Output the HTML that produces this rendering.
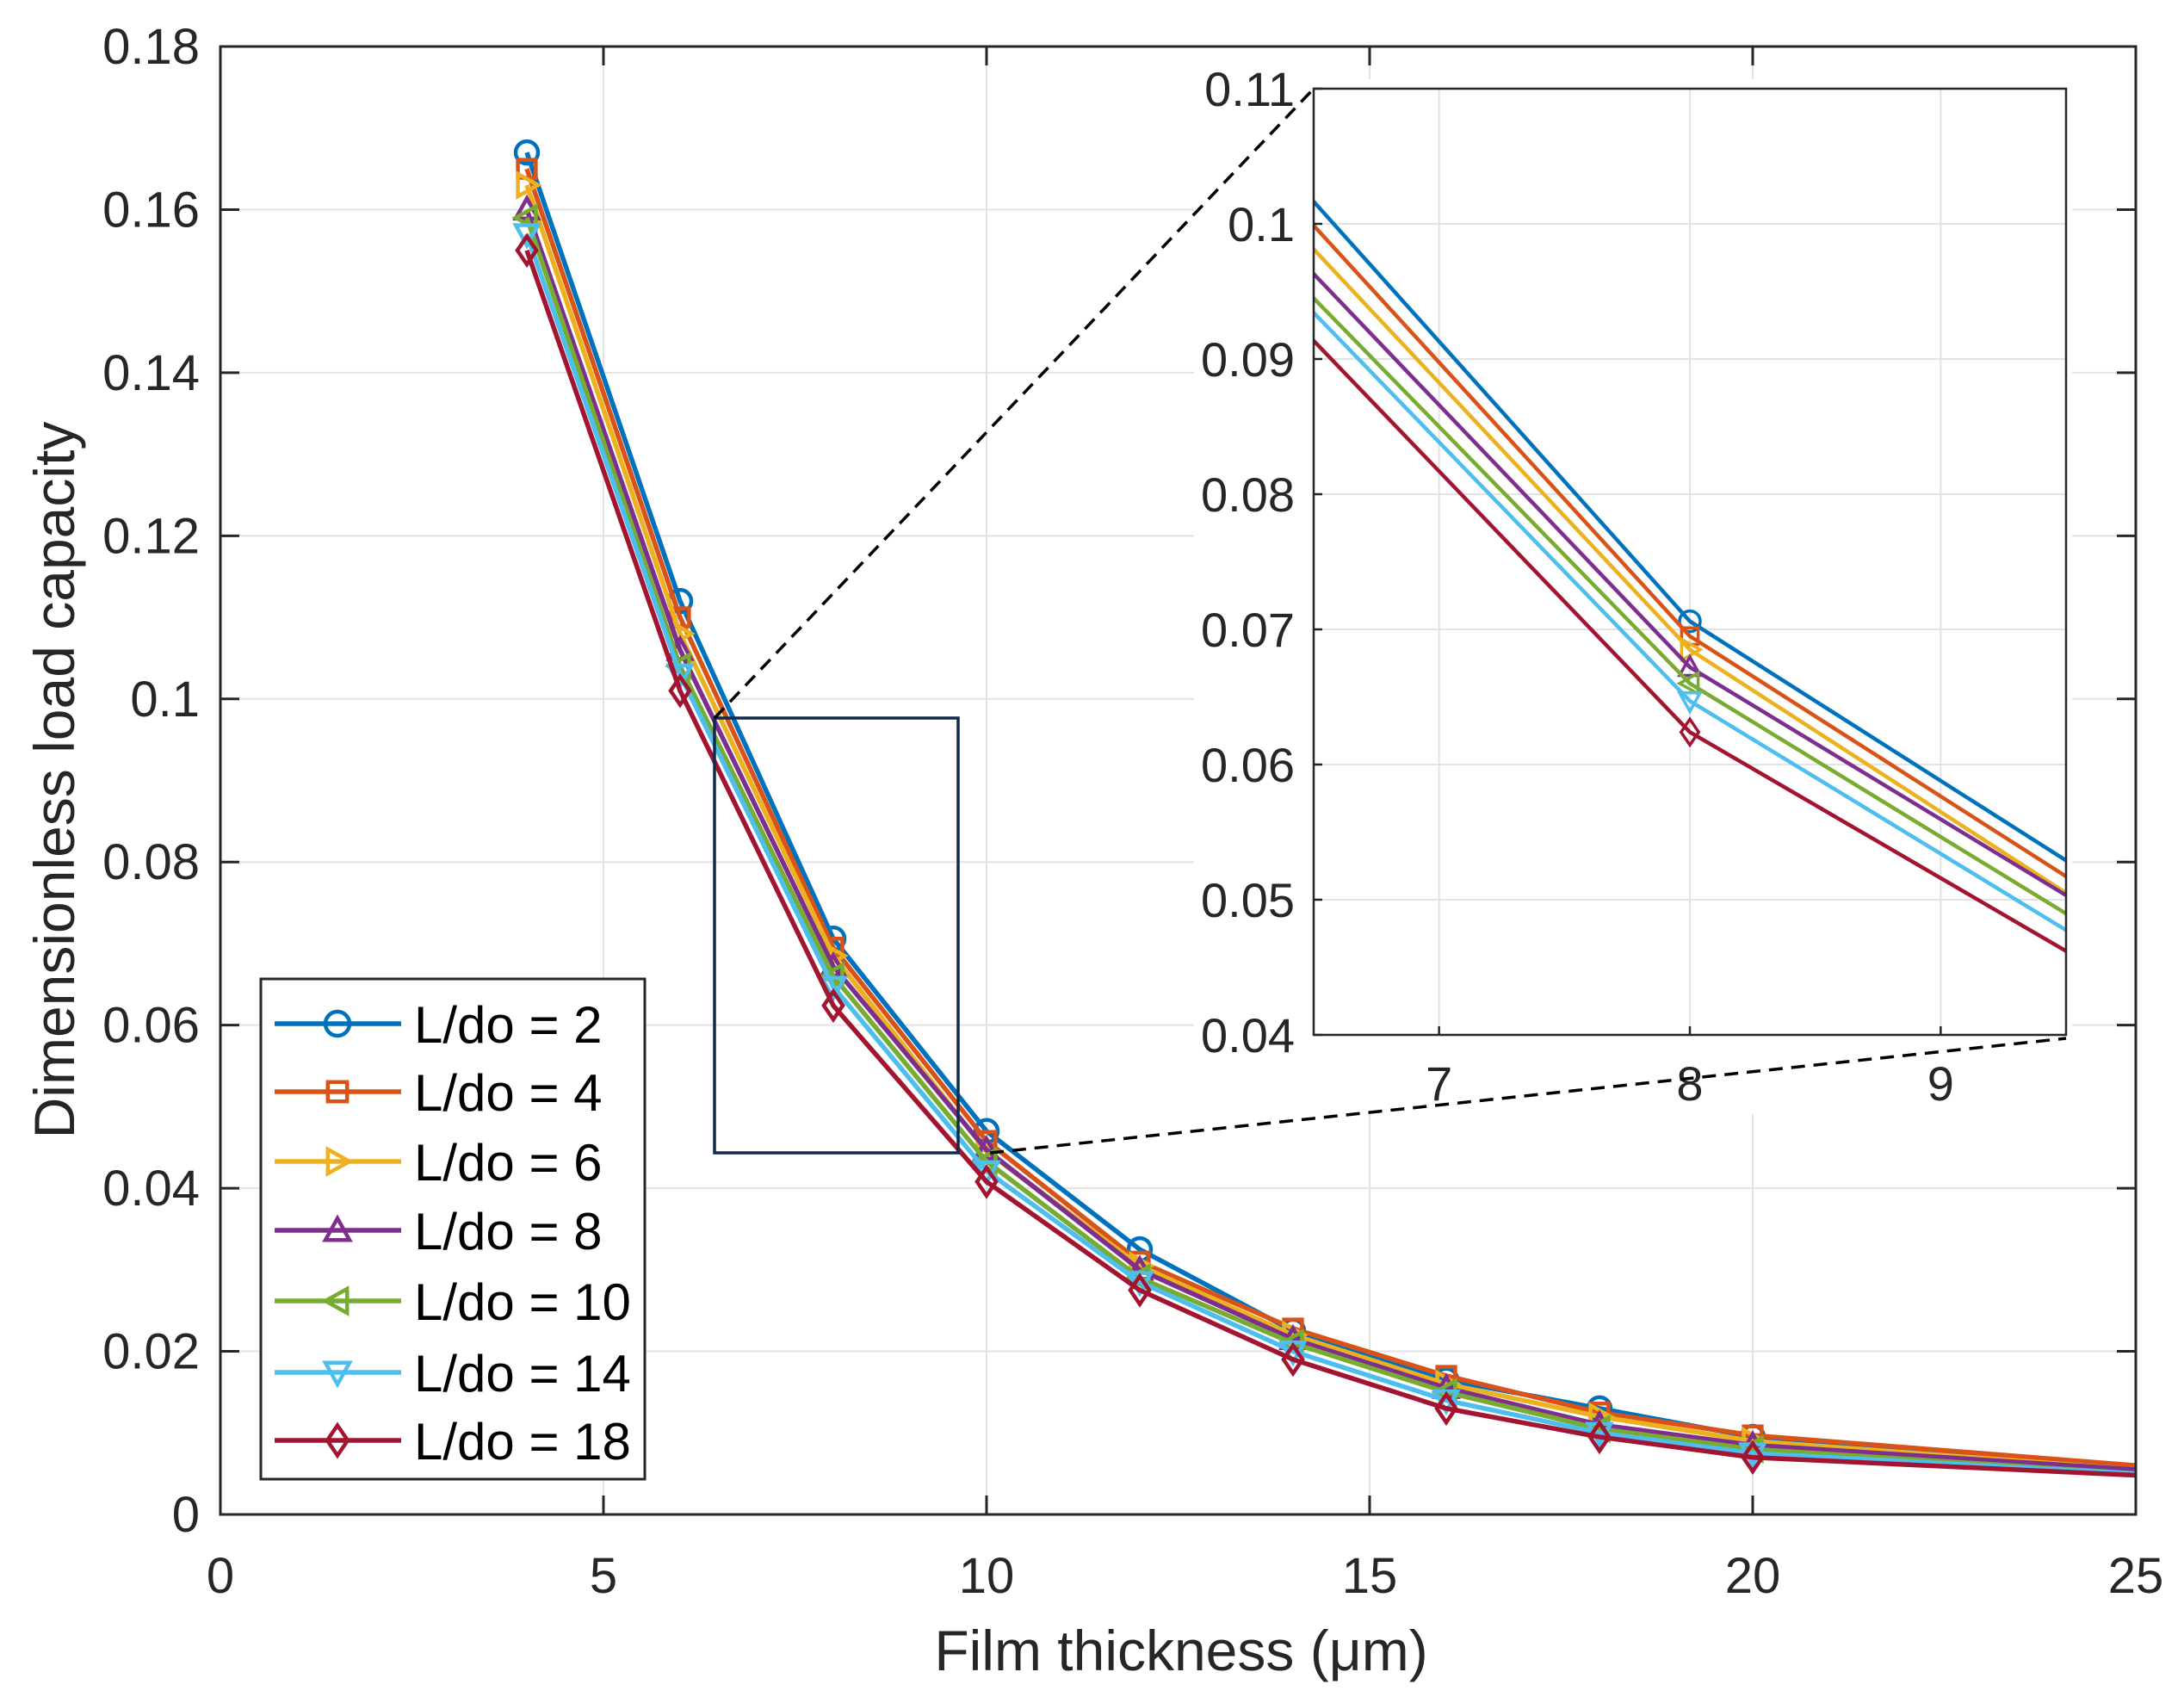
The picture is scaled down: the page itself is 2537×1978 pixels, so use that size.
<!DOCTYPE html>
<html><head><meta charset="utf-8">
<style>
html,body{margin:0;padding:0;background:#fff;}
svg{display:block;font-family:"Liberation Sans",Arial,sans-serif;}
</style></head>
<body>
<svg id="chart" width="2537" height="1978" viewBox="0 0 2537 1978" xmlns="http://www.w3.org/2000/svg">
<rect x="0" y="0" width="2537" height="1978" fill="#fff"/>
<g id="main"></g>
<g id="inset"></g>
<g id="legend"></g>
</svg>
<script>
const xs = [4, 6, 8, 10, 12, 14, 16, 18, 20, 25];
const seriesNames = ["L/do = 2","L/do = 4","L/do = 6","L/do = 8","L/do = 10","L/do = 14","L/do = 18"];
const sLd2  = [0.167, 0.112, 0.0706, 0.0470, 0.0325, 0.0225, 0.0165, 0.0130, 0.0095, 0.0055];
const sLd4  = [0.165, 0.110, 0.0695, 0.0458, 0.0310, 0.0228, 0.0170, 0.0125, 0.0097, 0.0060];
const sLd6  = [0.163, 0.108, 0.0685, 0.0445, 0.0305, 0.0220, 0.0160, 0.0120, 0.0090, 0.0055];
const sLd8  = [0.160, 0.106, 0.0672, 0.0447, 0.0300, 0.0215, 0.0155, 0.0110, 0.0085, 0.0055];
const sLd10 = [0.159, 0.104, 0.0660, 0.0433, 0.0290, 0.0210, 0.0150, 0.0105, 0.0080, 0.0050];
const sLd14 = [0.157, 0.103, 0.0647, 0.0421, 0.0285, 0.0200, 0.0140, 0.0100, 0.0075, 0.0050];
const sLd18 = [0.155, 0.101, 0.0624, 0.0408, 0.0275, 0.0190, 0.0130, 0.0095, 0.0070, 0.0048];
const xTicks = [0, 5, 10, 15, 20, 25];
const yTicks = [0, 0.02, 0.04, 0.06, 0.08, 0.1, 0.12, 0.14, 0.16, 0.18];
const yTickLabels = ["0","0.02","0.04","0.06","0.08","0.1","0.12","0.14","0.16","0.18"];
const insetXTicks = [7, 8, 9];
const insetYTicks = [0.04, 0.05, 0.06, 0.07, 0.08, 0.09, 0.1, 0.11];
const insetYTickLabels = ["0.04","0.05","0.06","0.07","0.08","0.09","0.1","0.11"];

const series = [sLd2,sLd4,sLd6,sLd8,sLd10,sLd14,sLd18];
const colors = ["#0072BD","#D95319","#EDB120","#7E2F8E","#77AC30","#4DBEEE","#A2142F"];
const markers = ["circle","square","right","up","left","down","diamond"];
const NS = "http://www.w3.org/2000/svg";
function mk(tag, attrs, parent){const e=document.createElementNS(NS,tag);for(const k in attrs)e.setAttribute(k,attrs[k]);parent.appendChild(e);return e;}

const L=256,R=2481,T=54,B=1759;
const X0=0,X1=25,Y0=0,Y1=0.18;
const sx=v=>L+(v-X0)/(X1-X0)*(R-L);
const sy=v=>B-(v-Y0)/(Y1-Y0)*(B-T);
const main=document.getElementById("main");

function markerPath(type,cx,cy,r){
  switch(type){
    case "square": return `M${cx-r*0.8},${cy-r*0.8}h${r*1.6}v${r*1.6}h${-r*1.6}z`;
    case "right": return `M${cx-r*0.8},${cy-r}L${cx+r},${cy}L${cx-r*0.8},${cy+r}z`;
    case "left": return `M${cx+r*0.8},${cy-r}L${cx-r},${cy}L${cx+r*0.8},${cy+r}z`;
    case "up": return `M${cx-r},${cy+r*0.8}L${cx},${cy-r}L${cx+r},${cy+r*0.8}z`;
    case "down": return `M${cx-r},${cy-r*0.8}L${cx},${cy+r}L${cx+r},${cy-r*0.8}z`;
    case "diamond": return `M${cx},${cy-r*1.25}L${cx+r*0.85},${cy}L${cx},${cy+r*1.25}L${cx-r*0.85},${cy}z`;
  }
}
function drawMarker(parent,type,cx,cy,r,color,sw){
  let m;
  if(type==="circle") m=mk("circle",{cx:cx,cy:cy,r:r,fill:"none",stroke:color,"stroke-width":sw},parent);
  else m=mk("path",{d:markerPath(type,cx,cy,r),fill:"none",stroke:color,"stroke-width":sw,"stroke-linejoin":"miter"},parent);
  return m;
}

const grid=mk("g",{},main);


xTicks.forEach(t=>{ if(t>X0&&t<X1) mk("line",{x1:sx(t),x2:sx(t),y1:T,y2:B,stroke:"#e3e3e3","stroke-width":2},grid);});
yTicks.forEach(t=>{ if(t>Y0&&t<Y1) mk("line",{x1:L,x2:R,y1:sy(t),y2:sy(t),stroke:"#e3e3e3","stroke-width":2},grid);});

series.forEach((s,i)=>{
  const g=mk("g",{},main);
  
  
  mk("polyline",{points:xs.map((x,j)=>sx(x)+","+sy(s[j])).join(" "),fill:"none",stroke:colors[i],"stroke-width":5.5,"stroke-linejoin":"round"},g);
  xs.forEach((x,j)=>{ if(x<=20){ const m=drawMarker(g,markers[i],sx(x),sy(s[j]),13,colors[i],4.5);
    
    
  }});
});

const zr=mk("rect",{x:830,y:834,width:283,height:505,fill:"none",stroke:"#0f2a4a","stroke-width":3.5},main);



const ibg=mk("rect",{x:1387,y:92,width:1020,height:1202,fill:"#fff"},main);



const box=mk("g",{},main);


mk("rect",{x:L,y:T,width:R-L,height:B-T,fill:"none",stroke:"#262626","stroke-width":3},box);
xTicks.forEach(t=>{mk("line",{x1:sx(t),x2:sx(t),y1:B,y2:B-22,stroke:"#262626","stroke-width":3},box);mk("line",{x1:sx(t),x2:sx(t),y1:T,y2:T+22,stroke:"#262626","stroke-width":3},box);});
yTicks.forEach(t=>{mk("line",{x1:L,x2:L+22,y1:sy(t),y2:sy(t),stroke:"#262626","stroke-width":3},box);mk("line",{x1:R,x2:R-22,y1:sy(t),y2:sy(t),stroke:"#262626","stroke-width":3},box);});

xTicks.forEach(t=>{const e=mk("text",{x:sx(t),y:1850,"font-size":58,"text-anchor":"middle",fill:"#262626"},main);e.textContent=String(t);
  
  });
yTicks.forEach((t,i)=>{const e=mk("text",{x:232,y:sy(t)+20,"font-size":58,"text-anchor":"end",fill:"#262626"},main);e.textContent=yTickLabels[i];
  
  });
const xt=mk("text",{x:1372,y:1940,"font-size":66,"text-anchor":"middle",fill:"#262626"},main);xt.textContent="Film thickness (μm)";


const yt=mk("text",{x:0,y:0,"font-size":66,"text-anchor":"middle",fill:"#262626",transform:"translate(86,906) rotate(-90)"},main);yt.textContent="Dimensionless load capacity";



const IL=1526,IR=2400,IT=103,IB=1202;
const IX0=6.5,IX1=9.5,IY0=0.04,IY1=0.11;
const ix=v=>IL+(v-IX0)/(IX1-IX0)*(IR-IL);
const iy=v=>IB-(v-IY0)/(IY1-IY0)*(IB-IT);
const inset=document.getElementById("inset");
const ig=mk("g",{},inset);


insetXTicks.forEach(t=>mk("line",{x1:ix(t),x2:ix(t),y1:IT,y2:IB,stroke:"#e3e3e3","stroke-width":2},ig));
insetYTicks.forEach(t=>{if(t>IY0&&t<IY1) mk("line",{x1:IL,x2:IR,y1:iy(t),y2:iy(t),stroke:"#e3e3e3","stroke-width":2},ig);});
mk("clipPath",{id:"iclip"},inset);
mk("rect",{x:IL,y:IT,width:IR-IL,height:IB-IT},document.getElementById("iclip"));
series.forEach((s,i)=>{
  const g=mk("g",{"clip-path":"url(#iclip)"},inset);
  
  
  mk("polyline",{points:xs.map((x,j)=>ix(x)+","+iy(s[j])).join(" "),fill:"none",stroke:colors[i],"stroke-width":4.5},g);
  xs.forEach((x,j)=>{ if(x>=IX0&&x<=IX1){const m=drawMarker(g,markers[i],ix(x),iy(s[j]),12,colors[i],3.5);
    
    }});
});
const ib=mk("g",{},inset);


mk("rect",{x:IL,y:IT,width:IR-IL,height:IB-IT,fill:"none",stroke:"#262626","stroke-width":2.5},ib);
insetXTicks.forEach(t=>{mk("line",{x1:ix(t),x2:ix(t),y1:IB,y2:IB-10,stroke:"#262626","stroke-width":2.5},ib);});
insetYTicks.forEach(t=>{mk("line",{x1:IL,x2:IL+10,y1:iy(t),y2:iy(t),stroke:"#262626","stroke-width":2.5},ib);});
insetXTicks.forEach(t=>{const e=mk("text",{x:ix(t),y:1278,"font-size":56,"text-anchor":"middle",fill:"#262626"},inset);e.textContent=String(t);
  
  });
insetYTicks.forEach((t,i)=>{const e=mk("text",{x:1504,y:iy(t)+20,"font-size":56,"text-anchor":"end",fill:"#262626"},inset);e.textContent=insetYTickLabels[i];
  
  });
const d1=mk("line",{x1:830,y1:834,x2:IL,y2:IT,stroke:"#000","stroke-width":3.5,"stroke-dasharray":"16,10"},inset);


const d2=mk("line",{x1:1150,y1:1339,x2:IR,y2:IB+4,stroke:"#000","stroke-width":3.5,"stroke-dasharray":"16,10"},inset);



const lg=document.getElementById("legend");


mk("rect",{x:303,y:1137,width:446,height:581,fill:"#fff",stroke:"#262626","stroke-width":3},lg);
const ly=[1189,1268,1349,1429,1511,1594,1673];
seriesNames.forEach((n,i)=>{
  const g=mk("g",{},lg);
  
  
  mk("line",{x1:319,x2:466,y1:ly[i],y2:ly[i],stroke:colors[i],"stroke-width":5.5},g);
  drawMarker(g,markers[i],392,ly[i],14,colors[i],4.5);
  const t=mk("text",{x:481,y:ly[i]+22,"font-size":60,fill:"#000"},g);t.textContent=n;
});
</script>
</body></html>
